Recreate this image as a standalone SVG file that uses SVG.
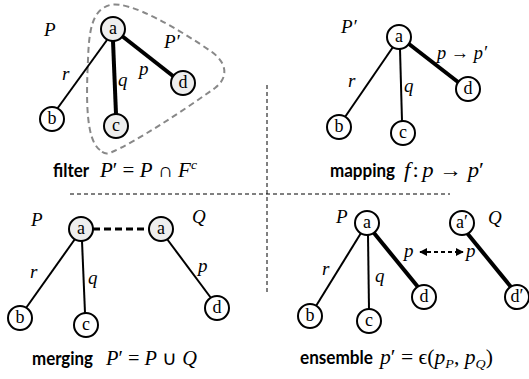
<svg xmlns="http://www.w3.org/2000/svg" width="529" height="379" viewBox="0 0 529 379">
<style>
.n{stroke:#000;stroke-width:2;fill:#fff}
.g{fill:#eeeeee}
.nt{font-family:"Liberation Serif",serif;font-size:18px;text-anchor:middle;fill:#000}
.e{stroke:#000;stroke-width:2;fill:none}
.t{stroke:#000;stroke-width:4;fill:none}
.m{font-family:"Liberation Serif",serif;font-style:italic;font-size:19px;fill:#000}
.cap{font-family:"Lato","Open Sans",sans-serif;font-weight:bold;font-size:18px;fill:#000}
.mc{font-family:"Liberation Serif",serif;font-size:20px;fill:#000}
.i{font-style:italic}
.sep{stroke:#000;stroke-width:1;stroke-dasharray:4,3;fill:none}
</style>
<defs>
<marker id="ah" viewBox="0 0 10 10" refX="9" refY="5" markerWidth="4" markerHeight="4" orient="auto-start-reverse">
<path d="M0,0 L10,5 L0,10 Z" fill="#000"/>
</marker>
</defs>
<g id="connectors">
<path class="sep" d="M267,85 V293"/>
<path class="sep" d="M70,194 H450"/>
<path d="M100,150 C86,140 86,100 88,60 C89,30 92,10 110,5 C130,0 180,30 212,52 C228,64 228,78 215,88 C180,113 135,142 112,152 C106,155 103,153 100,150 Z" fill="none" stroke="#888" stroke-width="2" stroke-dasharray="6,4"/>
<line class="e" x1="107" y1="40" x2="57" y2="109"/>
<line class="t" x1="113" y1="41" x2="116" y2="114"/>
<line class="t" x1="122" y1="36" x2="173" y2="76"/>
<line class="e" x1="393" y1="47" x2="345" y2="117"/>
<line class="e" x1="400" y1="49" x2="402" y2="121"/>
<line class="t" x1="409" y1="44" x2="458" y2="82"/>
<line class="e" x1="75" y1="239" x2="26" y2="308"/>
<line class="e" x1="82" y1="241" x2="85" y2="313"/>
<line class="e" x1="167" y1="239" x2="211" y2="298"/>
<line x1="93" y1="229" x2="149" y2="229" stroke="#000" stroke-width="3" stroke-dasharray="7,4"/>
<line class="e" x1="361" y1="233" x2="316" y2="306"/>
<line class="e" x1="368" y1="235" x2="369" y2="309"/>
<line class="t" x1="374" y1="233" x2="418" y2="287"/>
<line class="t" x1="467" y1="233" x2="511" y2="287"/>
<line x1="420" y1="252" x2="463" y2="252" stroke="#000" stroke-width="2" stroke-dasharray="4,3" marker-start="url(#ah)" marker-end="url(#ah)"/>
</g>
<g id="p1-a"><circle class="n g" cx="113" cy="29" r="12"/><text class="nt" x="113" y="34">a</text></g>
<g id="p1-b"><circle class="n" cx="52" cy="119" r="12"/><text class="nt" x="52" y="124">b</text></g>
<g id="p1-c"><circle class="n g" cx="116" cy="126" r="12"/><text class="nt" x="116" y="131">c</text></g>
<g id="p1-d"><circle class="n g" cx="183" cy="83" r="12"/><text class="nt" x="183" y="88">d</text></g>
<g id="p1-labels">
<text class="m" x="44" y="36">P</text>
<text class="m" x="62" y="80">r</text>
<text class="m" x="118" y="86">q</text>
<text class="m" x="139" y="75">p</text>
<text class="m" x="164" y="48">P′</text>
</g>
<g id="p2-a"><circle class="n" cx="399" cy="37" r="12"/><text class="nt" x="399" y="42">a</text></g>
<g id="p2-b"><circle class="n" cx="339" cy="127" r="12"/><text class="nt" x="339" y="132">b</text></g>
<g id="p2-c"><circle class="n" cx="403" cy="133" r="12"/><text class="nt" x="403" y="138">c</text></g>
<g id="p2-d"><circle class="n" cx="468" cy="89" r="12"/><text class="nt" x="468" y="94">d</text></g>
<g id="p2-labels">
<text class="m" x="341" y="33">P′</text>
<text class="m" x="348" y="87">r</text>
<text class="m" x="404" y="92">q</text>
<text class="m" x="437" y="59" textLength="50" lengthAdjust="spacingAndGlyphs">p <tspan font-style="normal">→</tspan> p′</text>
</g>
<g id="p3-a"><circle class="n g" cx="81" cy="229" r="12"/><text class="nt" x="81" y="234">a</text></g>
<g id="p3-a2"><circle class="n g" cx="161" cy="229" r="12"/><text class="nt" x="161" y="234">a</text></g>
<g id="p3-b"><circle class="n" cx="20" cy="318" r="12"/><text class="nt" x="20" y="323">b</text></g>
<g id="p3-c"><circle class="n" cx="86" cy="325" r="12"/><text class="nt" x="86" y="330">c</text></g>
<g id="p3-d"><circle class="n" cx="217" cy="308" r="12"/><text class="nt" x="217" y="313">d</text></g>
<g id="p3-labels">
<text class="m" x="31" y="226">P</text>
<text class="m" x="192" y="223">Q</text>
<text class="m" x="30" y="278">r</text>
<text class="m" x="88" y="284">q</text>
<text class="m" x="198" y="272">p</text>
</g>
<g id="p4-a"><circle class="n" cx="367" cy="223" r="12"/><text class="nt" x="367" y="228">a</text></g>
<g id="p4-b"><circle class="n" cx="310" cy="316" r="12"/><text class="nt" x="310" y="321">b</text></g>
<g id="p4-c"><circle class="n" cx="369" cy="321" r="12"/><text class="nt" x="369" y="326">c</text></g>
<g id="p4-d"><circle class="n" cx="424" cy="297" r="12"/><text class="nt" x="424" y="302">d</text></g>
<g id="p4-a2"><circle class="n" cx="462" cy="223" r="12"/><text class="nt" x="462" y="228">a′</text></g>
<g id="p4-d2"><circle class="n" cx="517" cy="297" r="12"/><text class="nt" x="517" y="302">d′</text></g>
<g id="p4-labels">
<text class="m" x="336" y="223">P</text>
<text class="m" x="488" y="224">Q</text>
<text class="m" x="322" y="275">r</text>
<text class="m" x="375" y="282">q</text>
<text class="m" x="404" y="257">p</text>
<text class="m" x="466" y="257">p</text>
</g>
<g id="captions">
<text class="cap" x="53" y="177" textLength="36" lengthAdjust="spacingAndGlyphs">filter</text>
<text class="mc" x="100" y="177" textLength="97" lengthAdjust="spacingAndGlyphs"><tspan class="i">P</tspan>′ = <tspan class="i">P</tspan> ∩ <tspan class="i">F</tspan><tspan class="i" font-size="13" dy="-8">c</tspan></text>
<text class="cap" x="330" y="177" textLength="65" lengthAdjust="spacingAndGlyphs">mapping</text>
<text class="mc" x="404" y="177" textLength="80" lengthAdjust="spacingAndGlyphs"><tspan class="i">f</tspan><tspan dx="2">:</tspan><tspan class="i" dx="3">p</tspan> → <tspan class="i">p</tspan>′</text>
<text class="cap" x="32" y="365" textLength="61" lengthAdjust="spacingAndGlyphs">merging</text>
<text class="mc" x="106" y="365" textLength="91" lengthAdjust="spacingAndGlyphs"><tspan class="i">P</tspan>′ = <tspan class="i">P</tspan> ∪ <tspan class="i">Q</tspan></text>
<text class="cap" x="300" y="364" textLength="73" lengthAdjust="spacingAndGlyphs">ensemble</text>
<text class="mc" x="380" y="364" textLength="113" lengthAdjust="spacingAndGlyphs"><tspan class="i">p</tspan>′ = ϵ(<tspan class="i">p</tspan><tspan class="i" font-size="13" dy="4">P</tspan><tspan dy="-4">, </tspan><tspan class="i">p</tspan><tspan class="i" font-size="13" dy="4">Q</tspan><tspan dy="-4">)</tspan></text>
</g>
</svg>
